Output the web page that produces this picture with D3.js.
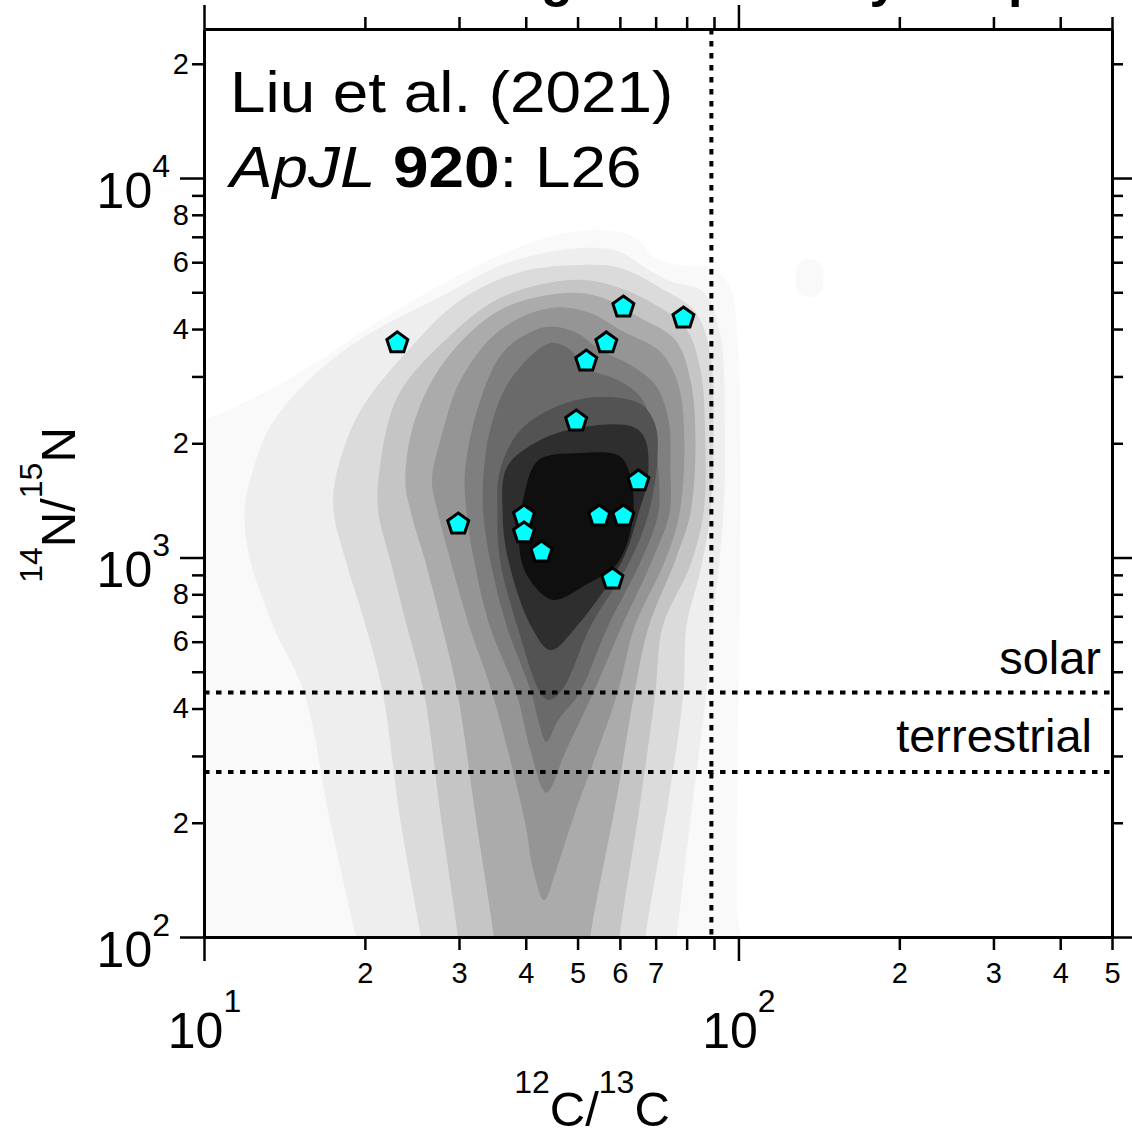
<!DOCTYPE html>
<html>
<head>
<meta charset="utf-8">
<script src="https://cdn.jsdelivr.net/npm/d3@7"></script>
<style>
  body { margin: 0; background: #fff; }
  svg { display: block; font-family: "Liberation Sans", Arial, Helvetica, sans-serif; }
</style>
</head>
<body>
<div id="chart"></div>
<script>
// ---- grain measurements (12C/13C, 14N/15N) ----
var grainC = [23.0, 29.9, 39.7, 39.7, 42.8, 49.7, 51.9, 56.6, 60.9, 78.9, 65.0, 54.9, 60.9, 58.1];
var grainN = [3700, 1233, 1294, 1168, 1040, 2303, 3314, 3698, 4600, 4303, 1601, 1294, 1294, 883];

// reference compositions
var solarC = 89;
var solarN = 441;
var terrestrialN = 272;

// ---- density contour outlines as [12C/13C, 14N/15N] ----
var levelGrays = ["#f9f9f9", "#eeeeee", "#dbdbdb", "#c5c5c5", "#ababab", "#959595",
                  "#7f7f7f", "#6a6a6a", "#535353", "#2e2e2e", "#0f0f0f"];

var level1 = [[9.0, 70], [9.0, 2235], [10.0, 2303], [12.7, 2681], [16.5, 3314], [21.4, 4226],
  [27.7, 5225], [35.8, 6267], [46.4, 7120], [56.4, 7295], [64.2, 6950], [69.9, 6154],
  [79.6, 5863], [89.4, 5792], [96.6, 5131], [99.6, 3743], [100.9, 1920], [100.6, 773],
  [99.6, 300], [99.4, 120], [99.4, 80], [60.0, 70]];
var level1Blob = [[135.8, 6116], [141.8, 5970], [144.3, 5450], [141.8, 4977], [135.8, 4858],
  [130.1, 4977], [127.9, 5450], [130.1, 5970]];
var level2 = [[19.8, 87], [19.3, 99], [17.2, 203], [15.4, 440], [13.5, 656], [12.2, 985],
  [11.9, 1310], [12.2, 1601], [13.5, 2289], [18.1, 3479], [28.3, 4948], [37.4, 6006],
  [50.6, 6539], [59.4, 6421], [67.0, 5792], [74.3, 5353], [86.0, 5008], [92.5, 3858],
  [94.2, 2289], [93.7, 1310], [89.4, 656], [87.1, 440], [81.3, 203], [76.6, 99], [75.9, 87]];
var level3 = [[25.9, 87], [25.5, 99], [23.3, 203], [21.6, 440], [20.1, 656], [18.4, 985],
  [17.5, 1310], [17.6, 1601], [19.5, 2403], [24.4, 3586], [30.2, 4771], [39.1, 5653],
  [50.6, 5898], [60.1, 5792], [71.5, 5131], [83.1, 4436], [88.6, 3416], [89.8, 2303],
  [88.6, 1310], [84.9, 927], [79.9, 656], [78.9, 440], [74.0, 230], [67.0, 99], [66.7, 87]];
var level4 = [[30.2, 87], [29.9, 99], [27.8, 203], [25.8, 440], [24.0, 656], [22.3, 985],
  [21.2, 1310], [21.2, 1601], [23.0, 2649], [28.3, 3743], [35.8, 4829], [48.5, 5385],
  [57.6, 5225], [68.4, 4713], [79.6, 4026], [84.9, 3119], [86.7, 2040], [86.0, 1310],
  [81.3, 955], [72.1, 656], [69.9, 440], [65.6, 230], [59.9, 99], [59.6, 87]];
var level5 = [[35.2, 87], [34.9, 99], [32.3, 203], [29.8, 440], [27.9, 656], [25.9, 985],
  [24.4, 1310], [23.8, 1601], [24.8, 2303], [28.3, 3314], [35.8, 4490], [47.4, 4978],
  [55.2, 4858], [65.6, 4277], [76.2, 3743], [81.3, 2936], [83.1, 2040], [81.3, 1310],
  [76.2, 985], [67.9, 656], [63.9, 440], [59.1, 230], [52.8, 99], [52.6, 87]];
var level6 = [[43.3, 125], [41.3, 150], [39.8, 203], [34.6, 440], [31.4, 656], [28.9, 985],
  [27.4, 1310], [26.7, 1601], [27.7, 2040], [30.2, 2936], [35.8, 3977], [44.5, 4545],
  [52.8, 4409], [60.1, 3977], [71.5, 3479], [77.2, 2849], [79.2, 2040], [77.6, 1310],
  [73.0, 985], [63.9, 656], [59.4, 440], [48.9, 203], [45.6, 150]];
var level7 = [[43.7, 240], [40.8, 311], [38.4, 440], [34.3, 656], [32.0, 985], [31.0, 1310],
  [30.8, 1701], [32.9, 2601], [36.6, 3522], [43.5, 4050], [49.5, 3929], [55.2, 3522],
  [62.8, 3216], [69.9, 2849], [74.0, 2303], [74.6, 1701], [74.3, 1310], [69.0, 985],
  [60.4, 656], [53.5, 440], [47.6, 311]];
var level8 = [[43.7, 327], [42.2, 373], [41.0, 440], [36.9, 656], [34.3, 985], [33.3, 1310],
  [33.3, 1601], [34.3, 2168], [37.4, 2936], [44.5, 3675], [48.5, 3522], [51.3, 3177],
  [59.4, 2936], [65.6, 2649], [69.3, 2168], [70.8, 1701], [70.8, 1310], [65.8, 985],
  [56.9, 656], [50.4, 440], [46.0, 373]];
var level9 = [[44.1, 421], [42.6, 440], [38.6, 656], [35.8, 985], [35.4, 1310], [35.8, 1701],
  [39.1, 2168], [46.4, 2522], [55.2, 2649], [65.6, 2538], [69.9, 2235], [70.5, 1807],
  [67.9, 1310], [62.8, 985], [52.8, 656], [46.8, 448]];
var level10 = [[44.5, 570], [41.0, 656], [37.1, 985], [36.2, 1310], [36.9, 1732], [42.6, 2040],
  [51.3, 2208], [63.6, 2208], [67.0, 2040], [67.6, 1601], [65.0, 1310], [60.7, 985], [49.7, 656]];
var level11 = [[44.9, 773], [40.4, 888], [38.9, 1066], [39.8, 1479], [42.3, 1807], [50.6, 1885],
  [59.4, 1863], [62.0, 1732], [63.6, 1310], [59.4, 967], [51.7, 846]];

var levels = [level1, level2, level3, level4, level5, level6, level7, level8, level9, level10, level11];

// ---- ticks ----
var xMinorTicks = [20, 30, 40, 50, 60, 70, 80, 90, 200, 300, 400, 500];
var xMinorLabeled = [20, 30, 40, 50, 60, 70, 200, 300, 400, 500];
var xMajorTicks = [10, 100];
var yMinorTicks = [200, 300, 400, 500, 600, 700, 800, 900,
                   2000, 3000, 4000, 5000, 6000, 7000, 8000, 9000, 20000];
var yMinorLabeled = [200, 400, 600, 800, 2000, 4000, 6000, 8000, 20000];
var yMajorTicks = [100, 1000, 10000];

// ---- layout ----
var W = 1132, H = 1131;
var margin = {top: 29, right: 20, bottom: 194, left: 204};
var plotW = W - margin.left - margin.right;   // 908
var plotH = H - margin.top - margin.bottom;   // 908

var x = d3.scaleLog().domain([10, 500]).range([margin.left, margin.left + plotW]);
var y = d3.scaleLog().domain([100, 24700]).range([margin.top + plotH, margin.top]);

var svg = d3.select("#chart").append("svg").attr("width", W).attr("height", H);

svg.append("defs").append("clipPath").attr("id", "plotclip")
  .append("rect")
  .attr("x", margin.left).attr("y", margin.top)
  .attr("width", plotW).attr("height", plotH);

// title, cut off by the top of the picture (only descenders show)
var titleParts = [
  {text: "Mainstream SiC grains", idx: 15, at: 557},
  {text: "by", idx: 1, at: 884},
  {text: "presolar", idx: 0, at: 1024}
];
var titleG = svg.append("g").attr("font-weight", "bold").attr("font-size", 52);
titleParts.forEach(function(p) {
  var t = titleG.append("text").attr("y", -4).text(p.text);
  var node = t.node();
  var before = p.idx > 0 ? node.getSubStringLength(0, p.idx) : 0;
  var own = node.getSubStringLength(p.idx, 1);
  t.attr("x", p.at - before - own / 2);
});

// density contours
var contourLine = d3.line()
  .x(function(d) { return x(d[0]); })
  .y(function(d) { return y(d[1]); })
  .curve(d3.curveCatmullRomClosed.alpha(0.5));

var density = svg.append("g").attr("clip-path", "url(#plotclip)");
density.append("path").datum(level1Blob).attr("d", contourLine).attr("fill", levelGrays[0]);
density.selectAll("path.level")
  .data(levels).enter().append("path")
  .attr("class", "level")
  .attr("d", contourLine)
  .attr("fill", function(d, i) { return levelGrays[i]; });

// dotted reference lines
var refs = svg.append("g").attr("clip-path", "url(#plotclip)")
  .attr("stroke", "#000").attr("stroke-width", 4).attr("stroke-dasharray", "5.5,6.5");
refs.append("line")
  .attr("x1", x(solarC)).attr("x2", x(solarC))
  .attr("y1", margin.top).attr("y2", margin.top + plotH);
refs.selectAll("line.h")
  .data([solarN, terrestrialN]).enter().append("line")
  .attr("class", "h")
  .attr("x1", margin.left).attr("x2", margin.left + plotW)
  .attr("y1", function(d) { return y(d); })
  .attr("y2", function(d) { return y(d); });

svg.append("text").attr("x", 1101).attr("y", y(solarN) - 18)
  .attr("text-anchor", "end").attr("font-size", 47).text("solar");
svg.append("text").attr("x", 1092).attr("y", y(terrestrialN) - 20)
  .attr("text-anchor", "end").attr("font-size", 47).text("terrestrial");

// grain markers (pentagons)
function pentagon(cx, cy, r) {
  var pts = d3.range(5).map(function(k) {
    var a = -Math.PI / 2 + k * 2 * Math.PI / 5;
    return [cx + r * Math.cos(a), cy + r * Math.sin(a)];
  });
  return "M" + pts.join("L") + "Z";
}
svg.append("g").selectAll("path")
  .data(d3.range(grainC.length)).enter().append("path")
  .attr("d", function(i) { return pentagon(x(grainC[i]), y(grainN[i]) + 1, 11); })
  .attr("fill", "#00ffff").attr("stroke", "#000").attr("stroke-width", 3)
  .attr("stroke-linejoin", "miter");

// source note (the original face is a little wider than Liberation Sans)
var note = svg.append("g").attr("font-size", 58)
  .attr("transform", "translate(230,0) scale(1.1,1)");
note.append("text").attr("x", 0).attr("y", 112).text("Liu et al. (2021)");
var n2 = note.append("text").attr("x", 0).attr("y", 187);
n2.append("tspan").attr("font-style", "italic").text("ApJL");
n2.append("tspan").text(" ");
n2.append("tspan").attr("font-weight", "bold").text("920");
n2.append("tspan").text(": L26");

// ---- axes ----
function minorFmt(list) {
  return function(d) {
    if (list.indexOf(d) < 0) return "";
    return Math.round(d / Math.pow(10, Math.floor(Math.log10(d) + 1e-9)));
  };
}
function styleAxis(g) {
  g.attr("font-family", null).attr("font-size", 29);
  g.select(".domain").attr("stroke-width", 3);
  g.selectAll(".tick line").attr("stroke-width", 2.5);
}

var xAxisMinor = d3.axisBottom(x).tickValues(xMinorTicks).tickSize(13).tickPadding(12)
  .tickSizeOuter(0).tickFormat(minorFmt(xMinorLabeled));
var xAxisMajor = d3.axisBottom(x).tickValues(xMajorTicks).tickSize(24)
  .tickSizeOuter(0).tickFormat("");
var gxMinor = svg.append("g").attr("transform", "translate(0," + (margin.top + plotH) + ")").call(xAxisMinor);
var gxMajor = svg.append("g").attr("transform", "translate(0," + (margin.top + plotH) + ")").call(xAxisMajor);
styleAxis(gxMinor); styleAxis(gxMajor);
gxMajor.selectAll(".tick").each(function(d) {
  var t = d3.select(this).append("text").attr("fill", "#000").attr("y", 111)
    .attr("text-anchor", "middle").attr("font-size", 50);
  t.append("tspan").text("10");
  t.append("tspan").attr("font-size", 32).attr("dy", -36).text(Math.round(Math.log10(d)));
});

var xAxisTopMinor = d3.axisTop(x).tickValues(xMinorTicks).tickSize(12).tickSizeOuter(0).tickFormat("");
var xAxisTopMajor = d3.axisTop(x).tickValues(xMajorTicks).tickSize(24).tickSizeOuter(0).tickFormat("");
styleAxis(svg.append("g").attr("transform", "translate(0," + margin.top + ")").call(xAxisTopMinor));
styleAxis(svg.append("g").attr("transform", "translate(0," + margin.top + ")").call(xAxisTopMajor));

var yAxisMinor = d3.axisLeft(y).tickValues(yMinorTicks).tickSize(12).tickPadding(3)
  .tickSizeOuter(0).tickFormat(minorFmt(yMinorLabeled));
var yAxisMajor = d3.axisLeft(y).tickValues(yMajorTicks).tickSize(24).tickSizeOuter(0).tickFormat("");
var gyMinor = svg.append("g").attr("transform", "translate(" + margin.left + ",0)").call(yAxisMinor);
var gyMajor = svg.append("g").attr("transform", "translate(" + margin.left + ",0)").call(yAxisMajor);
styleAxis(gyMinor); styleAxis(gyMajor);
gyMajor.selectAll(".tick").each(function(d) {
  var t = d3.select(this).append("text").attr("fill", "#000").attr("x", -34).attr("y", 29)
    .attr("text-anchor", "end").attr("font-size", 50);
  t.append("tspan").text("10");
  t.append("tspan").attr("font-size", 32).attr("dy", -31).text(Math.round(Math.log10(d)));
});

var yAxisRightMinor = d3.axisRight(y).tickValues(yMinorTicks).tickSize(11).tickSizeOuter(0).tickFormat("");
var yAxisRightMajor = d3.axisRight(y).tickValues(yMajorTicks).tickSize(20).tickSizeOuter(0).tickFormat("");
styleAxis(svg.append("g").attr("transform", "translate(" + (margin.left + plotW) + ",0)").call(yAxisRightMinor));
styleAxis(svg.append("g").attr("transform", "translate(" + (margin.left + plotW) + ",0)").call(yAxisRightMajor));

// axis titles
var xt = svg.append("text").attr("x", 592).attr("y", 1126)
  .attr("text-anchor", "middle").attr("font-size", 49);
xt.append("tspan").attr("font-size", 32).attr("dy", -33).text("12");
xt.append("tspan").attr("dy", 33).text("C/");
xt.append("tspan").attr("font-size", 32).attr("dy", -33).text("13");
xt.append("tspan").attr("dy", 33).text("C");

var yt = svg.append("text").attr("transform", "translate(75,505) rotate(-90)")
  .attr("text-anchor", "middle").attr("font-size", 49);
yt.append("tspan").attr("font-size", 32).attr("dy", -33).text("14");
yt.append("tspan").attr("dy", 33).text("N/");
yt.append("tspan").attr("font-size", 32).attr("dy", -33).text("15");
yt.append("tspan").attr("dy", 33).text("N");
</script>
</body>
</html>
